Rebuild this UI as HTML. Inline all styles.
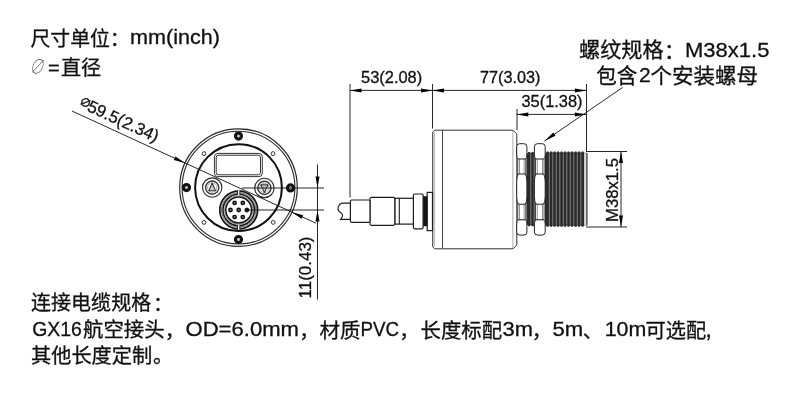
<!DOCTYPE html>
<html lang="zh-CN"><head><meta charset="utf-8"><title>尺寸图</title>
<style>html,body{margin:0;padding:0;background:#fff;}body{width:800px;height:400px;overflow:hidden;}svg{display:block;will-change:transform;filter:blur(0.4px);font-family:'Liberation Sans', 'Noto Sans CJK SC', sans-serif;}.t{fill:#111;stroke:#111;stroke-width:0.3;}.l{stroke:#222;stroke-width:1;fill:none;}.d{stroke:#111;stroke-width:0.9;fill:none;}.a{fill:#000;stroke:none;}</style></head><body>
<svg width="800" height="400" viewBox="0 0 800 400">
<rect width="800" height="400" fill="#fff"/>
<text class="t"><tspan id="tl1a" x="30.50" y="45.50" font-size="20" textLength="79.50" lengthAdjust="spacingAndGlyphs">尺寸单位</tspan><tspan id="tl1b" x="109.75" y="46.30" font-size="20">：</tspan><tspan id="tl1c" x="130.00" y="44.00" font-size="20" textLength="89.94" lengthAdjust="spacingAndGlyphs">mm(inch)</tspan></text>
<text font-size="19" font-weight="100" style="fill:#444;stroke:none" transform="translate(29,74.2) skewX(-14) scale(0.74,1.06)">∅</text>
<text class="t"><tspan id="tl2b" x="48.00" y="74.80" font-size="20">=</tspan><tspan id="tl2c" x="61.00" y="74.50" font-size="20" textLength="40.22" lengthAdjust="spacingAndGlyphs">直径</tspan></text>
<text class="t"><tspan id="b1a" x="31.00" y="309.50" font-size="20" textLength="120.21" lengthAdjust="spacingAndGlyphs">连接电缆规格</tspan><tspan id="b1b" x="153.12" y="310.50" font-size="20">：</tspan></text>
<text class="t"><tspan id="b2a" x="32.25" y="336.00" font-size="20" textLength="49.56" lengthAdjust="spacingAndGlyphs">GX16</tspan><tspan id="b2b" x="83.00" y="337.20" font-size="20" textLength="81.62" lengthAdjust="spacingAndGlyphs">航空接头</tspan><tspan id="b2c" x="164.75" y="337.50" font-size="20">，</tspan><tspan id="b2d" x="185.50" y="336.00" font-size="20" textLength="113.50" lengthAdjust="spacingAndGlyphs">OD=6.0mm</tspan><tspan id="b2e" x="299.25" y="337.50" font-size="20">，</tspan><tspan id="b2f" x="319.50" y="337.50" font-size="20" textLength="41.04" lengthAdjust="spacingAndGlyphs">材质</tspan><tspan id="b2g" x="360.50" y="336.00" font-size="20" textLength="38.58" lengthAdjust="spacingAndGlyphs">PVC</tspan><tspan id="b2h" x="399.25" y="337.50" font-size="20">，</tspan><tspan id="b2i" x="420.50" y="337.50" font-size="20" textLength="81.52" lengthAdjust="spacingAndGlyphs">长度标配</tspan><tspan id="b2j" x="502.50" y="336.00" font-size="20" textLength="30.37" lengthAdjust="spacingAndGlyphs">3m</tspan><tspan id="b2k" x="531.75" y="337.50" font-size="20">，</tspan><tspan id="b2l" x="552.50" y="336.00" font-size="20" textLength="30.79" lengthAdjust="spacingAndGlyphs">5m</tspan><tspan id="b2m" x="582.75" y="337.50" font-size="20">、</tspan><tspan id="b2n" x="604.65" y="336.00" font-size="20" textLength="41.62" lengthAdjust="spacingAndGlyphs">10m</tspan><tspan id="b2o" x="645.50" y="337.50" font-size="20" textLength="60.62" lengthAdjust="spacingAndGlyphs">可选配</tspan><tspan id="b2p" x="705.30" y="337.30" font-size="24">,</tspan></text>
<text class="t"><tspan id="b3a" x="31.00" y="362.50" font-size="20" textLength="121.23" lengthAdjust="spacingAndGlyphs">其他长度定制</tspan><tspan id="b3b" x="153.00" y="362.50" font-size="20">。</tspan></text>
<text class="t"><tspan id="tr1a" x="579.00" y="57.40" font-size="21" textLength="84.57" lengthAdjust="spacingAndGlyphs">螺纹规格</tspan><tspan id="tr1b" x="663.88" y="58.30" font-size="21">：</tspan><tspan id="tr1c" x="685.00" y="56.75" font-size="21" textLength="84.43" lengthAdjust="spacingAndGlyphs">M38x1.5</tspan></text>
<text class="t"><tspan id="tr2a" x="596.25" y="82.50" font-size="21" textLength="41.03" lengthAdjust="spacingAndGlyphs">包含</tspan><tspan id="tr2b" x="639.00" y="82.30" font-size="21">2</tspan><tspan id="tr2c" x="650.60" y="82.50" font-size="21" textLength="107.45" lengthAdjust="spacingAndGlyphs">个安装螺母</tspan></text>
<text class="t"><tspan id="d1" x="361.00" y="83.30" font-size="16" textLength="61.19" lengthAdjust="spacingAndGlyphs">53(2.08)</tspan></text>
<text class="t"><tspan id="d2" x="480.00" y="83.30" font-size="16" textLength="60.52" lengthAdjust="spacingAndGlyphs">77(3.03)</tspan></text>
<text class="t"><tspan id="d3" x="521.50" y="107.00" font-size="16" textLength="61.04" lengthAdjust="spacingAndGlyphs">35(1.38)</tspan></text>
<text class="t" font-size="16" textLength="64" lengthAdjust="spacingAndGlyphs" transform="translate(618,222) rotate(-90)">M38x1.5</text>
<text class="t" font-size="16" textLength="62" lengthAdjust="spacingAndGlyphs" transform="translate(310.5,298.5) rotate(-90)">11(0.43)</text>
<text class="t" transform="translate(77.5,106.5) rotate(24.7)"><tspan font-size="11.5" x="0" y="-2.7" style="stroke-width:0.5">∅</tspan><tspan font-size="17" x="9.5" y="0" textLength="76.5" lengthAdjust="spacingAndGlyphs">59.5(2.34)</tspan></text>
<circle class="l" cx="238.5" cy="187.6" r="58.8" style="stroke:#2a2a2a;stroke-width:1.2"/>
<circle class="l" cx="238.5" cy="187.6" r="56.4" style="stroke-width:1.1;stroke:#2a2a2a"/>
<circle class="l" cx="238.5" cy="187.6" r="43.4" style="stroke-width:2;stroke:#111"/>
<circle class="l" cx="238.5" cy="136.1" r="3.0" style="stroke-width:3.2;stroke:#111;fill:#fff"/>
<circle class="l" cx="238.5" cy="136.1" r="0.9" style="stroke-width:0.6;stroke:#888;fill:#eee"/>
<circle class="l" cx="238.5" cy="239.5" r="3.0" style="stroke-width:3.2;stroke:#111;fill:#fff"/>
<circle class="l" cx="238.5" cy="239.5" r="0.9" style="stroke-width:0.6;stroke:#888;fill:#eee"/>
<circle class="l" cx="186.5" cy="187.6" r="3.0" style="stroke-width:3.2;stroke:#111;fill:#fff"/>
<circle class="l" cx="186.5" cy="187.6" r="0.9" style="stroke-width:0.6;stroke:#888;fill:#eee"/>
<circle class="l" cx="290.5" cy="187.9" r="3.0" style="stroke-width:3.2;stroke:#111;fill:#fff"/>
<circle class="l" cx="290.5" cy="187.9" r="0.9" style="stroke-width:0.6;stroke:#888;fill:#eee"/>
<circle class="l" cx="204" cy="153.6" r="1.9" style="stroke-width:1;stroke:#333;fill:#fff"/>
<circle class="l" cx="273" cy="153.6" r="1.9" style="stroke-width:1;stroke:#333;fill:#fff"/>
<circle class="l" cx="204" cy="222.4" r="1.9" style="stroke-width:1;stroke:#333;fill:#fff"/>
<circle class="l" cx="273.2" cy="222.4" r="1.9" style="stroke-width:1;stroke:#333;fill:#fff"/>
<rect class="l" x="214.4" y="153.4" width="47.9" height="23.2" rx="3.4" style="stroke:#333;stroke-width:1"/>
<rect class="l" x="216.2" y="155.2" width="44.3" height="19.6" rx="2.2" style="stroke:#333;stroke-width:1"/>
<circle class="l" cx="212.2" cy="187.6" r="9.7" style="stroke:#2a2a2a;stroke-width:1.1;fill:#fff"/>
<circle class="l" cx="212.2" cy="187.6" r="6.6" style="stroke:#3a3a3a;stroke-width:1.4"/>
<circle class="l" cx="212.2" cy="187.6" r="4.7" style="stroke:#777;stroke-width:0.6"/>
<path class="l" d="M212.2,183.0 L215.5,190.79999999999998 L208.89999999999998,190.79999999999998 Z" style="stroke:#333;stroke-width:1.1;stroke-linejoin:round"/>
<path class="l" d="M212.2,186.0 L213.5,189.4 L210.89999999999998,189.4 Z" style="stroke:#888;stroke-width:0.6"/>
<circle class="l" cx="264.4" cy="187.9" r="9.7" style="stroke:#2a2a2a;stroke-width:1.1;fill:#fff"/>
<circle class="l" cx="264.4" cy="187.9" r="6.6" style="stroke:#3a3a3a;stroke-width:1.4"/>
<circle class="l" cx="264.4" cy="187.9" r="4.7" style="stroke:#777;stroke-width:0.6"/>
<path class="l" d="M264.4,192.5 L267.9,184.9 L260.9,184.9 Z" style="stroke:#333;stroke-width:1.1;stroke-linejoin:round"/>
<path class="l" d="M264.4,189.70000000000002 L265.79999999999995,186.5 L263.0,186.5 Z" style="stroke:#888;stroke-width:0.6"/>
<circle class="l" cx="238.7" cy="210" r="18.9" style="stroke:#151515;stroke-width:1.7;fill:#fff"/>
<circle class="l" cx="238.7" cy="210" r="17.2" style="stroke:#444;stroke-width:0.8"/>
<circle class="l" cx="238.7" cy="210" r="15.7" style="stroke:#151515;stroke-width:1.5"/>
<circle class="l" cx="238.7" cy="210" r="14.3" style="stroke:#666;stroke-width:0.7"/>
<circle class="l" cx="238.7" cy="210" r="12.9" style="stroke:#151515;stroke-width:1.5"/>
<rect x="237.6" y="190.29999999999998" width="2.2" height="4.6" fill="#fff"/>
<line class="l" x1="237.5" y1="190.4" x2="237.5" y2="194.8"/>
<line class="l" x1="239.89999999999998" y1="190.4" x2="239.89999999999998" y2="194.8"/>
<rect x="237.6" y="225.1" width="2.2" height="4.6" fill="#fff"/>
<line class="l" x1="237.5" y1="229.6" x2="237.5" y2="225.2"/>
<line class="l" x1="239.89999999999998" y1="229.6" x2="239.89999999999998" y2="225.2"/>
<circle class="l" cx="238.7" cy="210" r="1.7" style="stroke:#111;stroke-width:1.4;fill:#666"/>
<circle class="l" cx="246.9" cy="210.0" r="2.0" style="fill:#111;stroke:#111"/>
<circle class="l" cx="242.8" cy="217.1" r="1.7" style="stroke:#111;stroke-width:1.4;fill:#666"/>
<circle class="l" cx="234.6" cy="217.1" r="1.7" style="stroke:#111;stroke-width:1.4;fill:#666"/>
<circle class="l" cx="230.5" cy="210.0" r="1.7" style="stroke:#111;stroke-width:1.4;fill:#666"/>
<circle class="l" cx="234.6" cy="202.9" r="1.7" style="stroke:#111;stroke-width:1.4;fill:#666"/>
<circle class="l" cx="242.8" cy="202.9" r="1.7" style="stroke:#111;stroke-width:1.4;fill:#666"/>
<path class="l" d="M434.7,130.2 L513,130.2 L516.8,134 L516.8,245 L513,248.8 L434.7,248.8 L432.7,246.8 L432.7,132.2 Z" style="fill:#fff;stroke:#333"/>
<line class="l" x1="442.5" y1="130.2" x2="442.5" y2="248.8" style="stroke:#444"/>
<line class="l" x1="434.3" y1="132" x2="434.3" y2="246.5" style="stroke:#888;stroke-width:0.7"/>
<line class="l" x1="512.9" y1="130.5" x2="512.9" y2="248" style="stroke:#888;stroke-width:0.7"/>
<rect class="l" x="427.2" y="192.4" width="5.3" height="38.2" style="fill:#fff;stroke:#1c1c1c;stroke-width:1.2"/>
<rect x="423" y="196.2" width="4.4" height="30" fill="#151515"/>
<rect class="l" x="413.4" y="194" width="9.7" height="34.8" rx="1.2" style="fill:#fff;stroke:#1c1c1c;stroke-width:1.2"/>
<rect class="l" x="394.8" y="198.3" width="18.6" height="25.8" style="fill:#fff;stroke:#1c1c1c;stroke-width:1.2"/>
<line x1="399.3" y1="198.3" x2="399.3" y2="224.1" stroke="#1c1c1c" stroke-width="1.1"/>
<rect class="l" x="370" y="197.3" width="24.8" height="28" rx="1.5" style="fill:#fff;stroke:#1c1c1c;stroke-width:1.2"/>
<rect class="l" x="350.4" y="200" width="19.6" height="22.3" rx="1.2" style="fill:#fff;stroke:#1c1c1c;stroke-width:1.2"/>
<path class="l" d="M350.4,203.1 L342,203.1 C338,204.3 336.8,209.3 339.2,211.6 C343.2,213.6 343.6,216 340.6,219.4 L350.4,219.4" style="stroke:#1c1c1c;stroke-width:1.1"/>
<path d="M526.5,153.2 L527.70,153.2 L528.30,152 L530.00,152 L530.60,153.2 L531.10,153.2 L531.70,152 L533.40,152 L534.00,153.2 L534.50,153.2 L535.10,152 L534.40,152 L535.00,153.2 L535,153.5 L535,224.8 L535,225.10000000000002 L535.00,225.10000000000002 L534.40,226.3 L535.10,226.3 L534.50,225.10000000000002 L534.00,225.10000000000002 L533.40,226.3 L531.70,226.3 L531.10,225.10000000000002 L530.60,225.10000000000002 L530.00,226.3 L528.30,226.3 L527.70,225.10000000000002 L526.5,225.10000000000002 Z" fill="#2b2b2b"/>
<line x1="530.80" y1="154" x2="530.80" y2="224.3" stroke="#8c8c8c" stroke-width="0.9"/>
<line x1="534.20" y1="154" x2="534.20" y2="224.3" stroke="#8c8c8c" stroke-width="0.9"/>
<path d="M545,152.7 L546.10,152.7 L546.70,151.5 L548.50,151.5 L549.10,152.7 L549.60,152.7 L550.20,151.5 L552.00,151.5 L552.60,152.7 L553.10,152.7 L553.70,151.5 L555.50,151.5 L556.10,152.7 L556.60,152.7 L557.20,151.5 L559.00,151.5 L559.60,152.7 L560.10,152.7 L560.70,151.5 L562.50,151.5 L563.10,152.7 L563.60,152.7 L564.20,151.5 L566.00,151.5 L566.60,152.7 L567.10,152.7 L567.70,151.5 L569.50,151.5 L570.10,152.7 L570.60,152.7 L571.20,151.5 L573.00,151.5 L573.60,152.7 L574.10,152.7 L574.70,151.5 L576.50,151.5 L577.10,152.7 L577.60,152.7 L578.20,151.5 L580.00,151.5 L580.60,152.7 L581.10,152.7 L581.70,151.5 L583.40,151.5 L584.00,152.7 L587.2,153.0 L587.2,225.3 L584.0,225.60000000000002 L584.00,225.60000000000002 L583.40,226.8 L581.70,226.8 L581.10,225.60000000000002 L580.60,225.60000000000002 L580.00,226.8 L578.20,226.8 L577.60,225.60000000000002 L577.10,225.60000000000002 L576.50,226.8 L574.70,226.8 L574.10,225.60000000000002 L573.60,225.60000000000002 L573.00,226.8 L571.20,226.8 L570.60,225.60000000000002 L570.10,225.60000000000002 L569.50,226.8 L567.70,226.8 L567.10,225.60000000000002 L566.60,225.60000000000002 L566.00,226.8 L564.20,226.8 L563.60,225.60000000000002 L563.10,225.60000000000002 L562.50,226.8 L560.70,226.8 L560.10,225.60000000000002 L559.60,225.60000000000002 L559.00,226.8 L557.20,226.8 L556.60,225.60000000000002 L556.10,225.60000000000002 L555.50,226.8 L553.70,226.8 L553.10,225.60000000000002 L552.60,225.60000000000002 L552.00,226.8 L550.20,226.8 L549.60,225.60000000000002 L549.10,225.60000000000002 L548.50,226.8 L546.70,226.8 L546.10,225.60000000000002 L545,225.60000000000002 Z" fill="#2b2b2b"/>
<line x1="549.30" y1="153.5" x2="549.30" y2="224.8" stroke="#8c8c8c" stroke-width="0.9"/>
<line x1="552.80" y1="153.5" x2="552.80" y2="224.8" stroke="#8c8c8c" stroke-width="0.9"/>
<line x1="556.30" y1="153.5" x2="556.30" y2="224.8" stroke="#8c8c8c" stroke-width="0.9"/>
<line x1="559.80" y1="153.5" x2="559.80" y2="224.8" stroke="#8c8c8c" stroke-width="0.9"/>
<line x1="563.30" y1="153.5" x2="563.30" y2="224.8" stroke="#8c8c8c" stroke-width="0.9"/>
<line x1="566.80" y1="153.5" x2="566.80" y2="224.8" stroke="#8c8c8c" stroke-width="0.9"/>
<line x1="570.30" y1="153.5" x2="570.30" y2="224.8" stroke="#8c8c8c" stroke-width="0.9"/>
<line x1="573.80" y1="153.5" x2="573.80" y2="224.8" stroke="#8c8c8c" stroke-width="0.9"/>
<line x1="577.30" y1="153.5" x2="577.30" y2="224.8" stroke="#8c8c8c" stroke-width="0.9"/>
<line x1="580.80" y1="153.5" x2="580.80" y2="224.8" stroke="#8c8c8c" stroke-width="0.9"/>
<rect x="584.0" y="152.7" width="3.2" height="72.9" fill="#b4b4b4"/>
<line x1="585.2" y1="153.5" x2="585.2" y2="224.8" stroke="#f4f4f4" stroke-width="1"/>
<line x1="586.9000000000001" y1="153.0" x2="586.9000000000001" y2="225.3" stroke="#333" stroke-width="1"/>
<rect class="l" x="517.8000000000001" y="158" width="7.999999999999932" height="62" style="fill:#fff;stroke:#333;stroke-width:0.9"/>
<rect class="l" x="519.5" y="158" width="4.599999999999932" height="62" style="fill:#fff;stroke:#777;stroke-width:0.8"/>
<path class="l" d="M519.7,143.7 L523.9,143.7 Q526.9,143.7 526.9,146.7 L526.9,155.0 Q526.9,158.0 525.3,159.0 L518.3000000000001,159.0 Q516.7,158.0 516.7,155.0 L516.7,146.7 Q516.7,143.7 519.7,143.7 Z" style="fill:#fff"/>
<path class="l" d="M519.7,235.1 L523.9,235.1 Q526.9,235.1 526.9,232.1 L526.9,223.79999999999998 Q526.9,220.79999999999998 525.3,219.79999999999998 L518.3000000000001,219.79999999999998 Q516.7,220.79999999999998 516.7,223.79999999999998 L516.7,232.1 Q516.7,235.1 519.7,235.1 Z" style="fill:#fff"/>
<path class="l" d="M518.3000000000001,174 L525.3,174 Q526.9,176 526.9,182 L526.9,196.2 Q526.9,202.2 525.3,204.2 L518.3000000000001,204.2 Q516.7,202.2 516.7,196.2 L516.7,182 Q516.7,176 518.3000000000001,174 Z" style="fill:#fff"/>
<rect class="l" x="535.5" y="158" width="8.600000000000069" height="62" style="fill:#fff;stroke:#333;stroke-width:0.9"/>
<rect class="l" x="537.1999999999999" y="158" width="5.200000000000069" height="62" style="fill:#fff;stroke:#777;stroke-width:0.8"/>
<path class="l" d="M537.4,143.7 L542.2,143.7 Q545.2,143.7 545.2,146.7 L545.2,155.0 Q545.2,158.0 543.6,159.0 L536.0,159.0 Q534.4,158.0 534.4,155.0 L534.4,146.7 Q534.4,143.7 537.4,143.7 Z" style="fill:#fff"/>
<path class="l" d="M537.4,235.1 L542.2,235.1 Q545.2,235.1 545.2,232.1 L545.2,223.79999999999998 Q545.2,220.79999999999998 543.6,219.79999999999998 L536.0,219.79999999999998 Q534.4,220.79999999999998 534.4,223.79999999999998 L534.4,232.1 Q534.4,235.1 537.4,235.1 Z" style="fill:#fff"/>
<path class="l" d="M536.0,174 L543.6,174 Q545.2,176 545.2,182 L545.2,196.2 Q545.2,202.2 543.6,204.2 L536.0,204.2 Q534.4,202.2 534.4,196.2 L534.4,182 Q534.4,176 536.0,174 Z" style="fill:#fff"/>
<line class="d" x1="350" y1="84" x2="350" y2="197.5"/>
<line class="d" x1="432.5" y1="84" x2="432.5" y2="128.5"/>
<line class="d" x1="586.5" y1="84" x2="586.5" y2="151.5"/>
<line class="d" x1="517" y1="109" x2="517" y2="130"/>
<line class="d" x1="350" y1="90.4" x2="586" y2="90.4"/>
<polygon class="a" points="350.00,90.40 361.50,88.40 361.50,92.40"/>
<polygon class="a" points="432.50,90.40 421.00,92.40 421.00,88.40"/>
<polygon class="a" points="432.50,90.40 444.00,88.40 444.00,92.40"/>
<polygon class="a" points="586.40,90.40 574.90,92.40 574.90,88.40"/>
<line class="d" x1="517" y1="114.4" x2="586" y2="114.4"/>
<polygon class="a" points="516.80,114.40 528.30,112.40 528.30,116.40"/>
<polygon class="a" points="586.40,114.40 574.90,116.40 574.90,112.40"/>
<line class="d" x1="622.5" y1="87.5" x2="544.5" y2="141"/>
<polygon class="a" points="544.50,141.00 553.26,132.56 555.53,135.86"/>
<line class="d" x1="586" y1="151.5" x2="627" y2="151.5"/>
<line class="d" x1="586" y1="227" x2="627" y2="227"/>
<line class="d" x1="621" y1="151.5" x2="621" y2="227"/>
<polygon class="a" points="621.00,151.50 623.00,163.00 619.00,163.00"/>
<polygon class="a" points="621.00,227.00 619.00,215.50 623.00,215.50"/>
<line class="d" x1="242" y1="188" x2="324" y2="188"/>
<line class="d" x1="246.5" y1="210" x2="324" y2="210"/>
<line class="d" x1="317.5" y1="164.5" x2="317.5" y2="299.5"/>
<polygon class="a" points="317.50,188.00 315.50,176.50 319.50,176.50"/>
<polygon class="a" points="317.50,210.00 319.50,221.50 315.50,221.50"/>
<line class="d" x1="72" y1="111.02" x2="316.0" y2="223.24"/>
<polygon class="a" points="185.08,163.03 173.80,160.04 175.47,156.41"/>
<polygon class="a" points="291.92,212.17 303.20,215.16 301.53,218.79"/>
</svg></body></html>
